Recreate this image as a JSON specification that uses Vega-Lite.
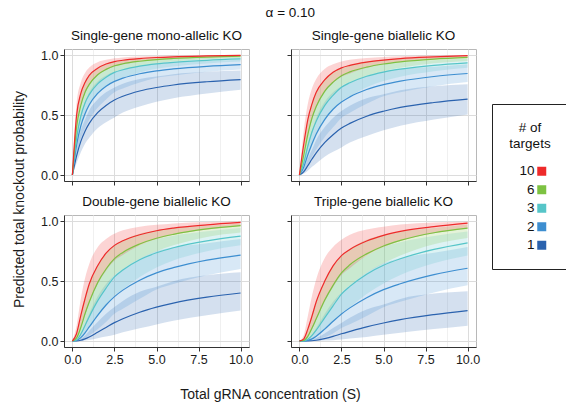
{
"$schema":"https://vega.github.io/schema/vega-lite/v6.json",
"padding":{"left":12,"top":5,"right":2,"bottom":4},
"title":{"text":"α = 0.10","anchor":"middle","fontSize":13.5,"fontWeight":"normal","font":"Liberation Sans","color":"#111","offset":9},
"data":{"values":[
{"g":"mono","n":"1","s":0,"p":0,"lo":0,"hi":0},{"g":"mono","n":"1","s":0.25,"p":0.16,"lo":0.10,"hi":0.22},{"g":"mono","n":"1","s":0.5,"p":0.28,"lo":0.19,"hi":0.37},{"g":"mono","n":"1","s":0.75,"p":0.365,"lo":0.26,"hi":0.46},{"g":"mono","n":"1","s":1,"p":0.43,"lo":0.31,"hi":0.54},{"g":"mono","n":"1","s":1.5,"p":0.52,"lo":0.39,"hi":0.63},{"g":"mono","n":"1","s":2,"p":0.58,"lo":0.44,"hi":0.69},{"g":"mono","n":"1","s":2.5,"p":0.625,"lo":0.48,"hi":0.73},{"g":"mono","n":"1","s":3,"p":0.656,"lo":0.52,"hi":0.76},{"g":"mono","n":"1","s":4,"p":0.70,"lo":0.57,"hi":0.80},{"g":"mono","n":"1","s":5,"p":0.729,"lo":0.61,"hi":0.82},{"g":"mono","n":"1","s":6,"p":0.75,"lo":0.64,"hi":0.84},{"g":"mono","n":"1","s":8,"p":0.777,"lo":0.68,"hi":0.86},{"g":"mono","n":"1","s":10,"p":0.795,"lo":0.71,"hi":0.87},
{"g":"mono","n":"2","s":0,"p":0,"lo":0,"hi":0},{"g":"mono","n":"2","s":0.25,"p":0.25,"lo":0.17,"hi":0.32},{"g":"mono","n":"2","s":0.5,"p":0.41,"lo":0.30,"hi":0.50},{"g":"mono","n":"2","s":0.75,"p":0.51,"lo":0.39,"hi":0.61},{"g":"mono","n":"2","s":1,"p":0.585,"lo":0.46,"hi":0.69},{"g":"mono","n":"2","s":1.5,"p":0.68,"lo":0.56,"hi":0.78},{"g":"mono","n":"2","s":2,"p":0.74,"lo":0.63,"hi":0.83},{"g":"mono","n":"2","s":2.5,"p":0.78,"lo":0.69,"hi":0.86},{"g":"mono","n":"2","s":3,"p":0.807,"lo":0.72,"hi":0.88},{"g":"mono","n":"2","s":4,"p":0.844,"lo":0.77,"hi":0.91},{"g":"mono","n":"2","s":5,"p":0.868,"lo":0.81,"hi":0.93},{"g":"mono","n":"2","s":6,"p":0.884,"lo":0.83,"hi":0.94},{"g":"mono","n":"2","s":8,"p":0.906,"lo":0.86,"hi":0.95},{"g":"mono","n":"2","s":10,"p":0.92,"lo":0.88,"hi":0.96},
{"g":"mono","n":"3","s":0,"p":0,"lo":0,"hi":0},{"g":"mono","n":"3","s":0.25,"p":0.31,"lo":0.22,"hi":0.40},{"g":"mono","n":"3","s":0.5,"p":0.49,"lo":0.38,"hi":0.59},{"g":"mono","n":"3","s":0.75,"p":0.60,"lo":0.49,"hi":0.70},{"g":"mono","n":"3","s":1,"p":0.67,"lo":0.57,"hi":0.76},{"g":"mono","n":"3","s":1.5,"p":0.76,"lo":0.67,"hi":0.84},{"g":"mono","n":"3","s":2,"p":0.815,"lo":0.735,"hi":0.88},{"g":"mono","n":"3","s":2.5,"p":0.855,"lo":0.785,"hi":0.91},{"g":"mono","n":"3","s":3,"p":0.877,"lo":0.81,"hi":0.925},{"g":"mono","n":"3","s":4,"p":0.907,"lo":0.855,"hi":0.945},{"g":"mono","n":"3","s":5,"p":0.926,"lo":0.885,"hi":0.96},{"g":"mono","n":"3","s":6,"p":0.939,"lo":0.905,"hi":0.968},{"g":"mono","n":"3","s":8,"p":0.956,"lo":0.93,"hi":0.978},{"g":"mono","n":"3","s":10,"p":0.967,"lo":0.945,"hi":0.985},
{"g":"mono","n":"6","s":0,"p":0,"lo":0,"hi":0},{"g":"mono","n":"6","s":0.25,"p":0.40,"lo":0.30,"hi":0.50},{"g":"mono","n":"6","s":0.5,"p":0.58,"lo":0.47,"hi":0.68},{"g":"mono","n":"6","s":0.75,"p":0.69,"lo":0.59,"hi":0.78},{"g":"mono","n":"6","s":1,"p":0.755,"lo":0.665,"hi":0.83},{"g":"mono","n":"6","s":1.5,"p":0.835,"lo":0.765,"hi":0.89},{"g":"mono","n":"6","s":2,"p":0.88,"lo":0.82,"hi":0.925},{"g":"mono","n":"6","s":2.5,"p":0.91,"lo":0.86,"hi":0.945},{"g":"mono","n":"6","s":3,"p":0.927,"lo":0.88,"hi":0.957},{"g":"mono","n":"6","s":4,"p":0.948,"lo":0.91,"hi":0.972},{"g":"mono","n":"6","s":5,"p":0.962,"lo":0.93,"hi":0.98},{"g":"mono","n":"6","s":6,"p":0.971,"lo":0.945,"hi":0.985},{"g":"mono","n":"6","s":8,"p":0.983,"lo":0.965,"hi":0.99},{"g":"mono","n":"6","s":10,"p":0.99,"lo":0.975,"hi":0.995},
{"g":"mono","n":"10","s":0,"p":0,"lo":0,"hi":0},{"g":"mono","n":"10","s":0.25,"p":0.50,"lo":0.40,"hi":0.60},{"g":"mono","n":"10","s":0.5,"p":0.68,"lo":0.58,"hi":0.77},{"g":"mono","n":"10","s":0.75,"p":0.77,"lo":0.68,"hi":0.85},{"g":"mono","n":"10","s":1,"p":0.83,"lo":0.75,"hi":0.895},{"g":"mono","n":"10","s":1.5,"p":0.89,"lo":0.83,"hi":0.94},{"g":"mono","n":"10","s":2,"p":0.925,"lo":0.875,"hi":0.96},{"g":"mono","n":"10","s":2.5,"p":0.945,"lo":0.905,"hi":0.972},{"g":"mono","n":"10","s":3,"p":0.956,"lo":0.92,"hi":0.98},{"g":"mono","n":"10","s":4,"p":0.970,"lo":0.945,"hi":0.988},{"g":"mono","n":"10","s":5,"p":0.979,"lo":0.96,"hi":0.992},{"g":"mono","n":"10","s":6,"p":0.985,"lo":0.97,"hi":0.995},{"g":"mono","n":"10","s":8,"p":0.992,"lo":0.982,"hi":0.998},{"g":"mono","n":"10","s":10,"p":0.997,"lo":0.99,"hi":0.999},

{"g":"single","n":"1","s":0,"p":0,"lo":0,"hi":0},{"g":"single","n":"1","s":0.25,"p":0.026,"lo":0.010,"hi":0.048},{"g":"single","n":"1","s":0.5,"p":0.078,"lo":0.036,"hi":0.137},{"g":"single","n":"1","s":0.75,"p":0.133,"lo":0.068,"hi":0.212},{"g":"single","n":"1","s":1,"p":0.185,"lo":0.096,"hi":0.292},{"g":"single","n":"1","s":1.5,"p":0.270,"lo":0.152,"hi":0.397},{"g":"single","n":"1","s":2,"p":0.336,"lo":0.194,"hi":0.476},{"g":"single","n":"1","s":2.5,"p":0.391,"lo":0.230,"hi":0.533},{"g":"single","n":"1","s":3,"p":0.430,"lo":0.270,"hi":0.578},{"g":"single","n":"1","s":4,"p":0.490,"lo":0.325,"hi":0.640},{"g":"single","n":"1","s":5,"p":0.531,"lo":0.372,"hi":0.672},{"g":"single","n":"1","s":6,"p":0.563,"lo":0.410,"hi":0.706},{"g":"single","n":"1","s":8,"p":0.604,"lo":0.462,"hi":0.740},{"g":"single","n":"1","s":10,"p":0.632,"lo":0.504,"hi":0.757},
{"g":"single","n":"2","s":0,"p":0,"lo":0,"hi":0},{"g":"single","n":"2","s":0.25,"p":0.063,"lo":0.029,"hi":0.102},{"g":"single","n":"2","s":0.5,"p":0.168,"lo":0.090,"hi":0.250},{"g":"single","n":"2","s":0.75,"p":0.260,"lo":0.152,"hi":0.372},{"g":"single","n":"2","s":1,"p":0.342,"lo":0.212,"hi":0.476},{"g":"single","n":"2","s":1.5,"p":0.462,"lo":0.314,"hi":0.608},{"g":"single","n":"2","s":2,"p":0.548,"lo":0.397,"hi":0.689},{"g":"single","n":"2","s":2.5,"p":0.608,"lo":0.476,"hi":0.740},{"g":"single","n":"2","s":3,"p":0.651,"lo":0.518,"hi":0.774},{"g":"single","n":"2","s":4,"p":0.712,"lo":0.593,"hi":0.828},{"g":"single","n":"2","s":5,"p":0.753,"lo":0.656,"hi":0.865},{"g":"single","n":"2","s":6,"p":0.782,"lo":0.689,"hi":0.884},{"g":"single","n":"2","s":8,"p":0.821,"lo":0.740,"hi":0.903},{"g":"single","n":"2","s":10,"p":0.846,"lo":0.774,"hi":0.922},
{"g":"single","n":"3","s":0,"p":0,"lo":0,"hi":0},{"g":"single","n":"3","s":0.25,"p":0.096,"lo":0.048,"hi":0.160},{"g":"single","n":"3","s":0.5,"p":0.240,"lo":0.144,"hi":0.348},{"g":"single","n":"3","s":0.75,"p":0.360,"lo":0.240,"hi":0.490},{"g":"single","n":"3","s":1,"p":0.449,"lo":0.325,"hi":0.578},{"g":"single","n":"3","s":1.5,"p":0.578,"lo":0.449,"hi":0.706},{"g":"single","n":"3","s":2,"p":0.664,"lo":0.540,"hi":0.774},{"g":"single","n":"3","s":2.5,"p":0.731,"lo":0.616,"hi":0.828},{"g":"single","n":"3","s":3,"p":0.769,"lo":0.656,"hi":0.856},{"g":"single","n":"3","s":4,"p":0.823,"lo":0.731,"hi":0.893},{"g":"single","n":"3","s":5,"p":0.858,"lo":0.783,"hi":0.922},{"g":"single","n":"3","s":6,"p":0.882,"lo":0.819,"hi":0.937},{"g":"single","n":"3","s":8,"p":0.914,"lo":0.865,"hi":0.957},{"g":"single","n":"3","s":10,"p":0.935,"lo":0.893,"hi":0.970},
{"g":"single","n":"6","s":0,"p":0,"lo":0,"hi":0},{"g":"single","n":"6","s":0.25,"p":0.160,"lo":0.090,"hi":0.250},{"g":"single","n":"6","s":0.5,"p":0.336,"lo":0.221,"hi":0.462},{"g":"single","n":"6","s":0.75,"p":0.476,"lo":0.348,"hi":0.608},{"g":"single","n":"6","s":1,"p":0.570,"lo":0.442,"hi":0.689},{"g":"single","n":"6","s":1.5,"p":0.697,"lo":0.585,"hi":0.792},{"g":"single","n":"6","s":2,"p":0.774,"lo":0.672,"hi":0.856},{"g":"single","n":"6","s":2.5,"p":0.828,"lo":0.740,"hi":0.893},{"g":"single","n":"6","s":3,"p":0.859,"lo":0.774,"hi":0.916},{"g":"single","n":"6","s":4,"p":0.899,"lo":0.828,"hi":0.945},{"g":"single","n":"6","s":5,"p":0.925,"lo":0.865,"hi":0.960},{"g":"single","n":"6","s":6,"p":0.943,"lo":0.893,"hi":0.970},{"g":"single","n":"6","s":8,"p":0.966,"lo":0.931,"hi":0.980},{"g":"single","n":"6","s":10,"p":0.980,"lo":0.951,"hi":0.990},
{"g":"single","n":"10","s":0,"p":0,"lo":0,"hi":0},{"g":"single","n":"10","s":0.25,"p":0.250,"lo":0.160,"hi":0.360},{"g":"single","n":"10","s":0.5,"p":0.462,"lo":0.336,"hi":0.593},{"g":"single","n":"10","s":0.75,"p":0.593,"lo":0.462,"hi":0.723},{"g":"single","n":"10","s":1,"p":0.689,"lo":0.563,"hi":0.801},{"g":"single","n":"10","s":1.5,"p":0.792,"lo":0.689,"hi":0.884},{"g":"single","n":"10","s":2,"p":0.856,"lo":0.766,"hi":0.922},{"g":"single","n":"10","s":2.5,"p":0.893,"lo":0.819,"hi":0.945},{"g":"single","n":"10","s":3,"p":0.914,"lo":0.846,"hi":0.960},{"g":"single","n":"10","s":4,"p":0.941,"lo":0.893,"hi":0.976},{"g":"single","n":"10","s":5,"p":0.958,"lo":0.922,"hi":0.984},{"g":"single","n":"10","s":6,"p":0.970,"lo":0.941,"hi":0.990},{"g":"single","n":"10","s":8,"p":0.984,"lo":0.964,"hi":0.996},{"g":"single","n":"10","s":10,"p":0.994,"lo":0.980,"hi":0.998},

{"g":"double","n":"1","s":0,"p":0,"lo":0,"hi":0},{"g":"double","n":"1","s":0.25,"p":0.0007,"lo":0.0001,"hi":0.002},{"g":"double","n":"1","s":0.5,"p":0.006,"lo":0.001,"hi":0.019},{"g":"double","n":"1","s":0.75,"p":0.018,"lo":0.005,"hi":0.045},{"g":"double","n":"1","s":1,"p":0.034,"lo":0.009,"hi":0.085},{"g":"double","n":"1","s":1.5,"p":0.073,"lo":0.023,"hi":0.158},{"g":"double","n":"1","s":2,"p":0.113,"lo":0.037,"hi":0.227},{"g":"double","n":"1","s":2.5,"p":0.153,"lo":0.053,"hi":0.284},{"g":"double","n":"1","s":3,"p":0.185,"lo":0.073,"hi":0.334},{"g":"double","n":"1","s":4,"p":0.240,"lo":0.106,"hi":0.410},{"g":"double","n":"1","s":5,"p":0.282,"lo":0.138,"hi":0.452},{"g":"double","n":"1","s":6,"p":0.316,"lo":0.168,"hi":0.498},{"g":"double","n":"1","s":8,"p":0.365,"lo":0.214,"hi":0.547},{"g":"double","n":"1","s":10,"p":0.400,"lo":0.254,"hi":0.573},
{"g":"double","n":"2","s":0,"p":0,"lo":0,"hi":0},{"g":"double","n":"2","s":0.25,"p":0.004,"lo":0.001,"hi":0.010},{"g":"double","n":"2","s":0.5,"p":0.028,"lo":0.008,"hi":0.063},{"g":"double","n":"2","s":0.75,"p":0.068,"lo":0.023,"hi":0.138},{"g":"double","n":"2","s":1,"p":0.117,"lo":0.045,"hi":0.227},{"g":"double","n":"2","s":1.5,"p":0.214,"lo":0.098,"hi":0.370},{"g":"double","n":"2","s":2,"p":0.300,"lo":0.158,"hi":0.475},{"g":"double","n":"2","s":2.5,"p":0.370,"lo":0.227,"hi":0.547},{"g":"double","n":"2","s":3,"p":0.424,"lo":0.269,"hi":0.600},{"g":"double","n":"2","s":4,"p":0.507,"lo":0.352,"hi":0.686},{"g":"double","n":"2","s":5,"p":0.568,"lo":0.430,"hi":0.748},{"g":"double","n":"2","s":6,"p":0.611,"lo":0.475,"hi":0.781},{"g":"double","n":"2","s":8,"p":0.674,"lo":0.547,"hi":0.815},{"g":"double","n":"2","s":10,"p":0.716,"lo":0.600,"hi":0.849},
{"g":"double","n":"3","s":0,"p":0,"lo":0,"hi":0},{"g":"double","n":"3","s":0.25,"p":0.009,"lo":0.002,"hi":0.026},{"g":"double","n":"3","s":0.5,"p":0.058,"lo":0.021,"hi":0.121},{"g":"double","n":"3","s":0.75,"p":0.130,"lo":0.058,"hi":0.240},{"g":"double","n":"3","s":1,"p":0.202,"lo":0.106,"hi":0.334},{"g":"double","n":"3","s":1.5,"p":0.334,"lo":0.202,"hi":0.498},{"g":"double","n":"3","s":2,"p":0.441,"lo":0.292,"hi":0.600},{"g":"double","n":"3","s":2.5,"p":0.534,"lo":0.380,"hi":0.686},{"g":"double","n":"3","s":3,"p":0.592,"lo":0.430,"hi":0.732},{"g":"double","n":"3","s":4,"p":0.677,"lo":0.534,"hi":0.797},{"g":"double","n":"3","s":5,"p":0.735,"lo":0.613,"hi":0.849},{"g":"double","n":"3","s":6,"p":0.777,"lo":0.671,"hi":0.878},{"g":"double","n":"3","s":8,"p":0.835,"lo":0.748,"hi":0.915},{"g":"double","n":"3","s":10,"p":0.874,"lo":0.797,"hi":0.941},
{"g":"double","n":"6","s":0,"p":0,"lo":0,"hi":0},{"g":"double","n":"6","s":0.25,"p":0.026,"lo":0.008,"hi":0.063},{"g":"double","n":"6","s":0.5,"p":0.113,"lo":0.049,"hi":0.214},{"g":"double","n":"6","s":0.75,"p":0.227,"lo":0.121,"hi":0.370},{"g":"double","n":"6","s":1,"p":0.325,"lo":0.196,"hi":0.475},{"g":"double","n":"6","s":1.5,"p":0.486,"lo":0.342,"hi":0.627},{"g":"double","n":"6","s":2,"p":0.600,"lo":0.452,"hi":0.732},{"g":"double","n":"6","s":2.5,"p":0.686,"lo":0.547,"hi":0.797},{"g":"double","n":"6","s":3,"p":0.738,"lo":0.600,"hi":0.839},{"g":"double","n":"6","s":4,"p":0.808,"lo":0.686,"hi":0.893},{"g":"double","n":"6","s":5,"p":0.856,"lo":0.748,"hi":0.922},{"g":"double","n":"6","s":6,"p":0.889,"lo":0.797,"hi":0.941},{"g":"double","n":"6","s":8,"p":0.934,"lo":0.867,"hi":0.961},{"g":"double","n":"6","s":10,"p":0.961,"lo":0.904,"hi":0.980},
{"g":"double","n":"10","s":0,"p":0,"lo":0,"hi":0},{"g":"double","n":"10","s":0.25,"p":0.063,"lo":0.026,"hi":0.130},{"g":"double","n":"10","s":0.5,"p":0.214,"lo":0.113,"hi":0.352},{"g":"double","n":"10","s":0.75,"p":0.352,"lo":0.214,"hi":0.522},{"g":"double","n":"10","s":1,"p":0.475,"lo":0.316,"hi":0.642},{"g":"double","n":"10","s":1.5,"p":0.627,"lo":0.475,"hi":0.781},{"g":"double","n":"10","s":2,"p":0.732,"lo":0.586,"hi":0.849},{"g":"double","n":"10","s":2.5,"p":0.797,"lo":0.671,"hi":0.893},{"g":"double","n":"10","s":3,"p":0.835,"lo":0.716,"hi":0.922},{"g":"double","n":"10","s":4,"p":0.885,"lo":0.797,"hi":0.953},{"g":"double","n":"10","s":5,"p":0.919,"lo":0.849,"hi":0.968},{"g":"double","n":"10","s":6,"p":0.941,"lo":0.885,"hi":0.980},{"g":"double","n":"10","s":8,"p":0.968,"lo":0.930,"hi":0.992},{"g":"double","n":"10","s":10,"p":0.988,"lo":0.961,"hi":0.996},

{"g":"triple","n":"1","s":0,"p":0,"lo":0,"hi":0},{"g":"triple","n":"1","s":0.25,"p":0,"lo":0,"hi":0.0001},{"g":"triple","n":"1","s":0.5,"p":0.0005,"lo":0,"hi":0.003},{"g":"triple","n":"1","s":0.75,"p":0.002,"lo":0.0003,"hi":0.009},{"g":"triple","n":"1","s":1,"p":0.006,"lo":0.001,"hi":0.025},{"g":"triple","n":"1","s":1.5,"p":0.020,"lo":0.004,"hi":0.063},{"g":"triple","n":"1","s":2,"p":0.038,"lo":0.007,"hi":0.108},{"g":"triple","n":"1","s":2.5,"p":0.060,"lo":0.012,"hi":0.151},{"g":"triple","n":"1","s":3,"p":0.080,"lo":0.020,"hi":0.193},{"g":"triple","n":"1","s":4,"p":0.118,"lo":0.034,"hi":0.262},{"g":"triple","n":"1","s":5,"p":0.150,"lo":0.052,"hi":0.304},{"g":"triple","n":"1","s":6,"p":0.178,"lo":0.069,"hi":0.351},{"g":"triple","n":"1","s":8,"p":0.220,"lo":0.099,"hi":0.395},{"g":"triple","n":"1","s":10,"p":0.253,"lo":0.128,"hi":0.415},
{"g":"triple","n":"2","s":0,"p":0,"lo":0,"hi":0},{"g":"triple","n":"2","s":0.25,"p":0.0002,"lo":0,"hi":0.001},{"g":"triple","n":"2","s":0.5,"p":0.005,"lo":0.0007,"hi":0.016},{"g":"triple","n":"2","s":0.75,"p":0.018,"lo":0.004,"hi":0.052},{"g":"triple","n":"2","s":1,"p":0.040,"lo":0.009,"hi":0.108},{"g":"triple","n":"2","s":1.5,"p":0.099,"lo":0.031,"hi":0.225},{"g":"triple","n":"2","s":2,"p":0.164,"lo":0.063,"hi":0.327},{"g":"triple","n":"2","s":2.5,"p":0.225,"lo":0.108,"hi":0.405},{"g":"triple","n":"2","s":3,"p":0.276,"lo":0.139,"hi":0.464},{"g":"triple","n":"2","s":4,"p":0.361,"lo":0.208,"hi":0.568},{"g":"triple","n":"2","s":5,"p":0.428,"lo":0.282,"hi":0.647},{"g":"triple","n":"2","s":6,"p":0.477,"lo":0.327,"hi":0.690},{"g":"triple","n":"2","s":8,"p":0.553,"lo":0.405,"hi":0.735},{"g":"triple","n":"2","s":10,"p":0.606,"lo":0.464,"hi":0.783},
{"g":"triple","n":"3","s":0,"p":0,"lo":0,"hi":0},{"g":"triple","n":"3","s":0.25,"p":0.0009,"lo":0.0001,"hi":0.004},{"g":"triple","n":"3","s":0.5,"p":0.014,"lo":0.003,"hi":0.042},{"g":"triple","n":"3","s":0.75,"p":0.047,"lo":0.014,"hi":0.118},{"g":"triple","n":"3","s":1,"p":0.090,"lo":0.034,"hi":0.193},{"g":"triple","n":"3","s":1.5,"p":0.193,"lo":0.090,"hi":0.351},{"g":"triple","n":"3","s":2,"p":0.293,"lo":0.158,"hi":0.464},{"g":"triple","n":"3","s":2.5,"p":0.391,"lo":0.234,"hi":0.568},{"g":"triple","n":"3","s":3,"p":0.455,"lo":0.282,"hi":0.626},{"g":"triple","n":"3","s":4,"p":0.557,"lo":0.391,"hi":0.712},{"g":"triple","n":"3","s":5,"p":0.631,"lo":0.480,"hi":0.783},{"g":"triple","n":"3","s":6,"p":0.685,"lo":0.549,"hi":0.823},{"g":"triple","n":"3","s":8,"p":0.763,"lo":0.647,"hi":0.875},{"g":"triple","n":"3","s":10,"p":0.818,"lo":0.712,"hi":0.913},
{"g":"triple","n":"6","s":0,"p":0,"lo":0,"hi":0},{"g":"triple","n":"6","s":0.25,"p":0.004,"lo":0.0007,"hi":0.016},{"g":"triple","n":"6","s":0.5,"p":0.038,"lo":0.011,"hi":0.099},{"g":"triple","n":"6","s":0.75,"p":0.108,"lo":0.042,"hi":0.225},{"g":"triple","n":"6","s":1,"p":0.185,"lo":0.086,"hi":0.327},{"g":"triple","n":"6","s":1.5,"p":0.339,"lo":0.200,"hi":0.497},{"g":"triple","n":"6","s":2,"p":0.464,"lo":0.304,"hi":0.626},{"g":"triple","n":"6","s":2.5,"p":0.568,"lo":0.405,"hi":0.712},{"g":"triple","n":"6","s":3,"p":0.635,"lo":0.464,"hi":0.768},{"g":"triple","n":"6","s":4,"p":0.726,"lo":0.568,"hi":0.843},{"g":"triple","n":"6","s":5,"p":0.792,"lo":0.647,"hi":0.886},{"g":"triple","n":"6","s":6,"p":0.838,"lo":0.712,"hi":0.913},{"g":"triple","n":"6","s":8,"p":0.902,"lo":0.807,"hi":0.941},{"g":"triple","n":"6","s":10,"p":0.941,"lo":0.859,"hi":0.970},
{"g":"triple","n":"10","s":0,"p":0,"lo":0,"hi":0},{"g":"triple","n":"10","s":0.25,"p":0.016,"lo":0.004,"hi":0.047},{"g":"triple","n":"10","s":0.5,"p":0.099,"lo":0.038,"hi":0.208},{"g":"triple","n":"10","s":0.75,"p":0.208,"lo":0.099,"hi":0.377},{"g":"triple","n":"10","s":1,"p":0.327,"lo":0.178,"hi":0.514},{"g":"triple","n":"10","s":1.5,"p":0.497,"lo":0.327,"hi":0.690},{"g":"triple","n":"10","s":2,"p":0.626,"lo":0.449,"hi":0.783},{"g":"triple","n":"10","s":2.5,"p":0.712,"lo":0.549,"hi":0.843},{"g":"triple","n":"10","s":3,"p":0.763,"lo":0.606,"hi":0.886},{"g":"triple","n":"10","s":4,"p":0.833,"lo":0.712,"hi":0.930},{"g":"triple","n":"10","s":5,"p":0.880,"lo":0.783,"hi":0.953},{"g":"triple","n":"10","s":6,"p":0.913,"lo":0.833,"hi":0.970},{"g":"triple","n":"10","s":8,"p":0.953,"lo":0.897,"hi":0.988},{"g":"triple","n":"10","s":10,"p":0.982,"lo":0.941,"hi":0.994}
]},
"bounds":"flush",
"columns":2,
"spacing":{"row":34,"column":42},
"concat":[
 {"title":{"text":"Single-gene mono-allelic KO"},"width":185,"height":132,
  "transform":[{"filter":"datum.g === 'mono'"}],
  "encoding":{
   "x":{"field":"s","type":"quantitative","scale":{"domain":[-0.5,10.5],"nice":false,"zero":false},"axis":{"values":[0,1.25,2.5,3.75,5,6.25,7.5,8.75,10],"labels":false,"title":null,"gridColor":{"condition":{"test":"datum.value % 2.5 === 0","value":"#dcdcdc"},"value":"#f0f0f0"},"tickOpacity":{"condition":{"test":"datum.value % 2.5 === 0","value":1},"value":0}}},
   "color":{"field":"n","type":"nominal","scale":{"domain":["10","6","3","2","1"],"range":["#EE2A2A","#7DC242","#56C5C8","#3D8ED0","#2A62AE"]},"title":["# of","targets"]}
  },
  "layer":[
   {"mark":{"type":"area","opacity":0.2,"interpolate":"monotone"},"encoding":{"y":{"field":"lo","type":"quantitative","scale":{"domain":[-0.05,1.05],"nice":false,"zero":false},"axis":{"values":[0,0.25,0.5,0.75,1],"format":".1f","labelExpr":"datum.value % 0.5 === 0 ? datum.label : ''","title":"Predicted total knockout probability","titleY":150,"titlePadding":14,"gridColor":{"condition":{"test":"datum.value % 0.5 === 0","value":"#dcdcdc"},"value":"#f0f0f0"},"tickOpacity":{"condition":{"test":"datum.value % 0.5 === 0","value":1},"value":0}}},"y2":{"field":"hi"}}},
   {"mark":{"type":"line","strokeWidth":1.2,"interpolate":"monotone"},"encoding":{"y":{"field":"p","type":"quantitative"}}}
  ]},
 {"title":{"text":"Single-gene biallelic KO"},"width":185,"height":132,
  "transform":[{"filter":"datum.g === 'single'"}],
  "encoding":{
   "x":{"field":"s","type":"quantitative","scale":{"domain":[-0.5,10.5],"nice":false,"zero":false},"axis":{"values":[0,1.25,2.5,3.75,5,6.25,7.5,8.75,10],"labels":false,"title":null,"gridColor":{"condition":{"test":"datum.value % 2.5 === 0","value":"#dcdcdc"},"value":"#f0f0f0"},"tickOpacity":{"condition":{"test":"datum.value % 2.5 === 0","value":1},"value":0}}},
   "color":{"field":"n","type":"nominal","scale":{"domain":["10","6","3","2","1"],"range":["#EE2A2A","#7DC242","#56C5C8","#3D8ED0","#2A62AE"]},"title":["# of","targets"]}
  },
  "layer":[
   {"mark":{"type":"area","opacity":0.2,"interpolate":"monotone"},"encoding":{"y":{"field":"lo","type":"quantitative","scale":{"domain":[-0.05,1.05],"nice":false,"zero":false},"axis":{"values":[0,0.25,0.5,0.75,1],"labels":false,"title":null,"gridColor":{"condition":{"test":"datum.value % 0.5 === 0","value":"#dcdcdc"},"value":"#f0f0f0"},"tickOpacity":{"condition":{"test":"datum.value % 0.5 === 0","value":1},"value":0}}},"y2":{"field":"hi"}}},
   {"mark":{"type":"line","strokeWidth":1.2,"interpolate":"monotone"},"encoding":{"y":{"field":"p","type":"quantitative"}}}
  ]},
 {"title":{"text":"Double-gene biallelic KO"},"width":185,"height":132,
  "transform":[{"filter":"datum.g === 'double'"}],
  "encoding":{
   "x":{"field":"s","type":"quantitative","scale":{"domain":[-0.5,10.5],"nice":false,"zero":false},"axis":{"values":[0,1.25,2.5,3.75,5,6.25,7.5,8.75,10],"format":".1f","labelExpr":"datum.value % 2.5 === 0 ? datum.label : ''","title":"Total gRNA concentration (S)","titleX":206,"titlePadding":22,"gridColor":{"condition":{"test":"datum.value % 2.5 === 0","value":"#dcdcdc"},"value":"#f0f0f0"},"tickOpacity":{"condition":{"test":"datum.value % 2.5 === 0","value":1},"value":0}}},
   "color":{"field":"n","type":"nominal","scale":{"domain":["10","6","3","2","1"],"range":["#EE2A2A","#7DC242","#56C5C8","#3D8ED0","#2A62AE"]},"title":["# of","targets"]}
  },
  "layer":[
   {"mark":{"type":"area","opacity":0.2,"interpolate":"monotone"},"encoding":{"y":{"field":"lo","type":"quantitative","scale":{"domain":[-0.05,1.05],"nice":false,"zero":false},"axis":{"values":[0,0.25,0.5,0.75,1],"format":".1f","labelExpr":"datum.value % 0.5 === 0 ? datum.label : ''","title":null,"gridColor":{"condition":{"test":"datum.value % 0.5 === 0","value":"#dcdcdc"},"value":"#f0f0f0"},"tickOpacity":{"condition":{"test":"datum.value % 0.5 === 0","value":1},"value":0}}},"y2":{"field":"hi"}}},
   {"mark":{"type":"line","strokeWidth":1.2,"interpolate":"monotone"},"encoding":{"y":{"field":"p","type":"quantitative"}}}
  ]},
 {"title":{"text":"Triple-gene biallelic KO"},"width":185,"height":132,
  "transform":[{"filter":"datum.g === 'triple'"}],
  "encoding":{
   "x":{"field":"s","type":"quantitative","scale":{"domain":[-0.5,10.5],"nice":false,"zero":false},"axis":{"values":[0,1.25,2.5,3.75,5,6.25,7.5,8.75,10],"format":".1f","labelExpr":"datum.value % 2.5 === 0 ? datum.label : ''","title":null,"gridColor":{"condition":{"test":"datum.value % 2.5 === 0","value":"#dcdcdc"},"value":"#f0f0f0"},"tickOpacity":{"condition":{"test":"datum.value % 2.5 === 0","value":1},"value":0}}},
   "color":{"field":"n","type":"nominal","scale":{"domain":["10","6","3","2","1"],"range":["#EE2A2A","#7DC242","#56C5C8","#3D8ED0","#2A62AE"]},"title":["# of","targets"]}
  },
  "layer":[
   {"mark":{"type":"area","opacity":0.2,"interpolate":"monotone"},"encoding":{"y":{"field":"lo","type":"quantitative","scale":{"domain":[-0.05,1.05],"nice":false,"zero":false},"axis":{"values":[0,0.25,0.5,0.75,1],"labels":false,"title":null,"gridColor":{"condition":{"test":"datum.value % 0.5 === 0","value":"#dcdcdc"},"value":"#f0f0f0"},"tickOpacity":{"condition":{"test":"datum.value % 0.5 === 0","value":1},"value":0}}},"y2":{"field":"hi"}}},
   {"mark":{"type":"line","strokeWidth":1.2,"interpolate":"monotone"},"encoding":{"y":{"field":"p","type":"quantitative"}}}
  ]}
],
"config":{
 "font":"Liberation Sans",
 "view":{"stroke":"#b8b8b8","strokeWidth":1},
 "axis":{"domainColor":"#333333","tickColor":"#333333","tickSize":4,"labelFontSize":12.5,"labelColor":"#1a1a1a","labelFont":"Liberation Sans","labelPadding":2,"titleFont":"Liberation Sans","titleFontSize":14,"titleFontWeight":"normal","titleColor":"#1a1a1a"},
 "title":{"fontSize":13.5,"fontWeight":"normal","font":"Liberation Sans","color":"#111111","offset":7},
 "legend":{"orient":"none","legendX":428,"legendY":55,"strokeColor":"#222222","padding":17,"titleFont":"Liberation Sans","titleFontSize":13.5,"titleFontWeight":"normal","titleColor":"#111111","titleAnchor":"middle","titleAlign":"center","titleLineHeight":16,"titlePadding":14,"labelFont":"Liberation Sans","labelFontSize":13.5,"labelColor":"#111111","labelAlign":"right","symbolType":"square","symbolSize":81,"symbolOpacity":1,"symbolStrokeWidth":0,"symbolOffset":22,"labelOffset":-14,"rowPadding":3.5}
}
}
